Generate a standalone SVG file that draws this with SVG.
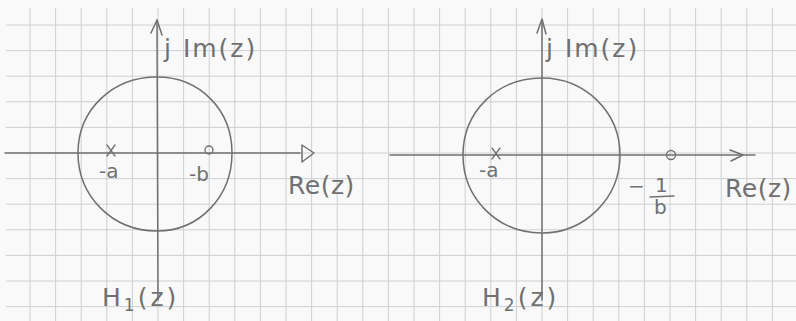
<svg xmlns="http://www.w3.org/2000/svg" width="796" height="321" viewBox="0 0 796 321">
<defs>
<style>
.grid line{stroke:#ccd0d4;stroke-width:1}
.pen{fill:none;stroke:#707070;stroke-width:1.5;stroke-linecap:round;stroke-linejoin:round}
.thin{fill:none;stroke:#707070;stroke-width:1.3;stroke-linecap:round}
text{font-family:"DejaVu Sans","Liberation Sans",sans-serif;fill:#707070}
.lbl{font-size:25px;letter-spacing:2px}
.big{font-size:25px}
.sm{font-size:20px}
</style>
</defs>
<rect x="0" y="0" width="796" height="321" fill="#f9f9f9"/>
<g class="grid" id="grid">
<line x1="30" y1="8" x2="30" y2="321"/><line x1="55.6" y1="8" x2="55.6" y2="321"/><line x1="81.2" y1="8" x2="81.2" y2="321"/><line x1="106.8" y1="8" x2="106.8" y2="321"/><line x1="132.4" y1="8" x2="132.4" y2="321"/><line x1="158" y1="8" x2="158" y2="321"/><line x1="183.6" y1="8" x2="183.6" y2="321"/><line x1="209.2" y1="8" x2="209.2" y2="321"/><line x1="234.8" y1="8" x2="234.8" y2="321"/><line x1="260.4" y1="8" x2="260.4" y2="321"/><line x1="286" y1="8" x2="286" y2="321"/><line x1="311.6" y1="8" x2="311.6" y2="321"/><line x1="337.2" y1="8" x2="337.2" y2="321"/><line x1="362.8" y1="8" x2="362.8" y2="321"/><line x1="388.4" y1="8" x2="388.4" y2="321"/><line x1="414" y1="8" x2="414" y2="321"/><line x1="439.6" y1="8" x2="439.6" y2="321"/><line x1="465.2" y1="8" x2="465.2" y2="321"/><line x1="490.8" y1="8" x2="490.8" y2="321"/><line x1="516.4" y1="8" x2="516.4" y2="321"/><line x1="542" y1="8" x2="542" y2="321"/><line x1="567.6" y1="8" x2="567.6" y2="321"/><line x1="593.2" y1="8" x2="593.2" y2="321"/><line x1="618.8" y1="8" x2="618.8" y2="321"/><line x1="644.4" y1="8" x2="644.4" y2="321"/><line x1="670" y1="8" x2="670" y2="321"/><line x1="695.6" y1="8" x2="695.6" y2="321"/><line x1="721.2" y1="8" x2="721.2" y2="321"/><line x1="746.8" y1="8" x2="746.8" y2="321"/><line x1="772.4" y1="8" x2="772.4" y2="321"/>
<line x1="6" y1="25" x2="796" y2="25"/><line x1="6" y1="50.6" x2="796" y2="50.6"/><line x1="6" y1="76.2" x2="796" y2="76.2"/><line x1="6" y1="101.8" x2="796" y2="101.8"/><line x1="6" y1="127.4" x2="796" y2="127.4"/><line x1="6" y1="153" x2="796" y2="153"/><line x1="6" y1="178.6" x2="796" y2="178.6"/><line x1="6" y1="204.2" x2="796" y2="204.2"/><line x1="6" y1="229.8" x2="796" y2="229.8"/><line x1="6" y1="255.4" x2="796" y2="255.4"/><line x1="6" y1="281" x2="796" y2="281"/><line x1="6" y1="306.6" x2="796" y2="306.6"/>
</g>
<g id="plot1">
<g id="axes1">
<path class="pen" d="M157,20 L158,300"/>
<path class="pen" d="M151,33 L157,20 L162,35"/>
<path class="pen" d="M5,153 L300,153"/>
<path class="pen" d="M302,145 L314,153 L302,162 Z"/>
</g>
<g id="circle1"><path class="pen" d="M78,153 C78,110 112,77 157,77 C200,77 232,110 232,153 C232,196 200,231 157,231 C112,231 78,196 78,153 Z"/></g>
<g id="pole1"><path class="thin" d="M107,145 L115,156 M115,145 L107,156"/></g>
<g id="zero1"><circle class="thin" cx="209" cy="150" r="4"/></g>
<text class="sm" x="99" y="178">-a</text>
<text class="sm" x="189" y="181">-b</text>
<text class="lbl" x="164" y="57">j Im(z)</text>
<text class="big" x="288" y="194" letter-spacing="0.5">Re(z)</text>
<text class="big" x="102" y="306" font-size="27" letter-spacing="3">H<tspan font-size="17" dy="5">1</tspan><tspan dy="-5">(z)</tspan></text>
</g>
<g id="plot2">
<g id="axes2">
<path class="pen" d="M542,20 L542,300"/>
<path class="pen" d="M537,33 L542,19 L546,34"/>
<path class="pen" d="M390,155 L755,155"/>
<path class="pen" d="M730,150 L743,155 L731,161"/>
</g>
<g id="circle2"><path class="pen" d="M463,155 C463,112 497,78 542,78 C585,78 620,112 620,155 C620,198 585,233 542,233 C497,233 463,198 463,155 Z"/></g>
<g id="pole2"><path class="thin" d="M492,148 L500,159 M500,148 L492,159"/></g>
<g id="zero2"><circle class="thin" cx="671" cy="155" r="4.5"/></g>
<text class="sm" x="479" y="177">-a</text>
<text class="lbl" x="546" y="57" font-size="26" letter-spacing="3">j Im(z)</text>
<text class="big" x="725" y="197" font-size="26" letter-spacing="0.5">Re(z)</text>
<text class="big" x="482" y="306" font-size="27" letter-spacing="3">H<tspan font-size="17" dy="5">2</tspan><tspan dy="-5">(z)</tspan></text>
<text class="sm" x="628" y="193">−</text>
<text class="sm" x="655" y="192">1</text>
<path class="thin" d="M650,197 L674,196"/>
<text class="sm" x="654" y="214">b</text>
</g>
</svg>
